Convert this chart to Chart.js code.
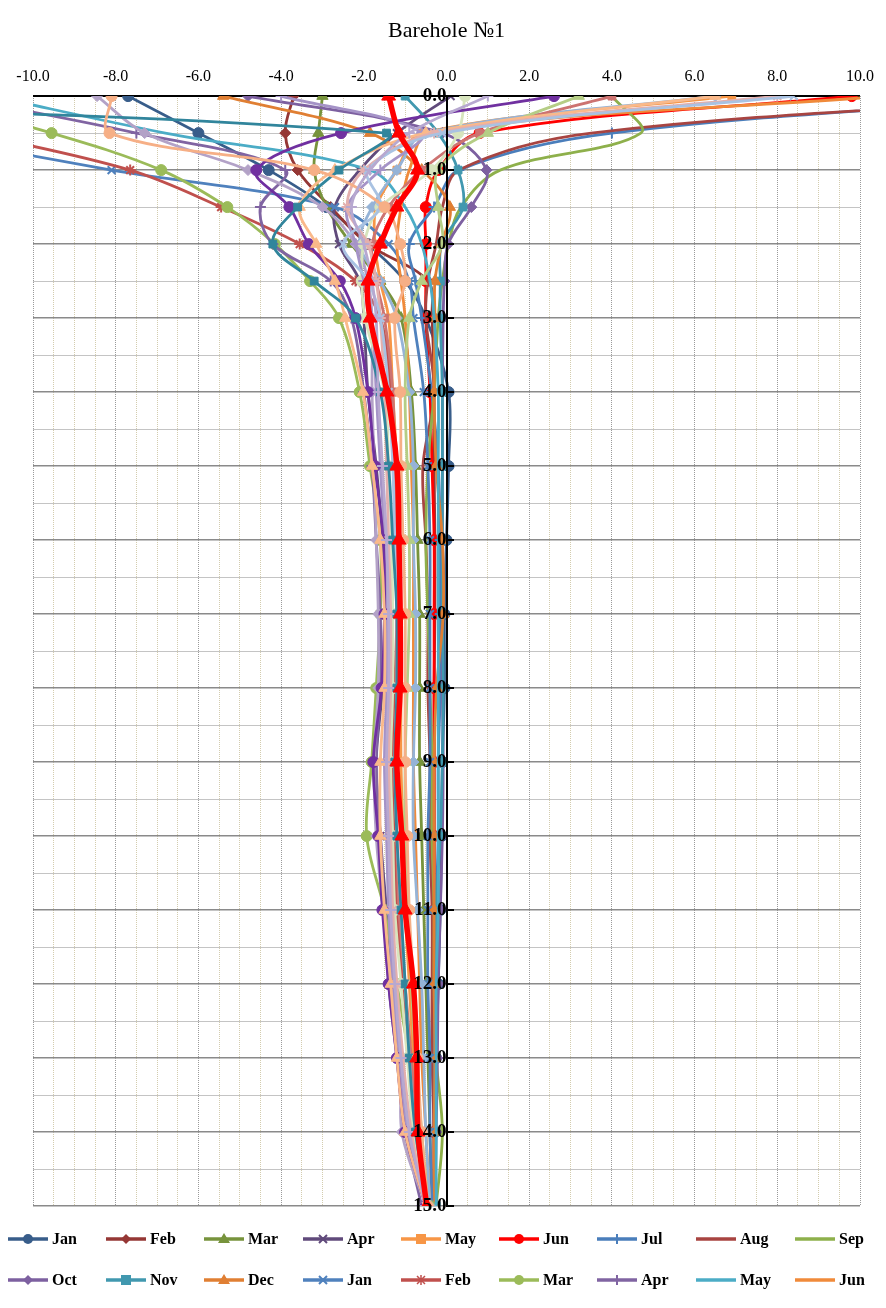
<!DOCTYPE html>
<html><head><meta charset="utf-8">
<script src="https://cdn.jsdelivr.net/npm/chart.js@4.4.1/dist/chart.umd.min.js"></script>
<style>
html,body{margin:0;padding:0;background:#fff;}
#wrap{position:relative;width:886px;height:1308px;}
#c{position:absolute;left:0;top:0;}
#legend{position:absolute;left:0;top:0;width:886px;height:1308px;pointer-events:none;font-family:"Liberation Serif",serif;font-weight:bold;font-size:16px;color:#000;}
.item{position:absolute;display:flex;align-items:center;height:22px;white-space:nowrap;}
.item svg{margin-right:4px;}
</style></head>
<body>
<div id="wrap"><canvas id="c" width="886" height="1308"></canvas><div id="legend"></div></div>
<script>
// depth (m) for every measurement
const depths = [0,0.5,1,1.5,2,2.5,3,4,5,6,7,8,9,10,11,12,13,14,15];
const xTickLabels = ['-10.0','-8.0','-6.0','-4.0','-2.0','0.0','2.0','4.0','6.0','8.0','10.0'];
const yTickLabels = ['0.0','1.0','2.0','3.0','4.0','5.0','6.0','7.0','8.0','9.0','10.0','11.0','12.0','13.0','14.0','15.0'];

// legend series (temperature, °C)
const jan1 = [-7.7,-6.0,-4.3,-2.9,-1.9,-1.0,-0.5,0.05,0.05,0.0,-0.05,-0.05,-0.1,-0.12,-0.15,-0.2,-0.25,-0.28,-0.3];
const feb1 = [-3.7,-3.9,-3.6,-2.8,-1.9,-0.45,-0.35,-0.3,-0.3,-0.28,-0.28,-0.3,-0.3,-0.3,-0.3,-0.3,-0.3,-0.3,-0.3];
const mar1 = [-3.0,-3.1,-3.2,-2.9,-2.3,-1.6,-1.1,-0.85,-0.75,-0.7,-0.65,-0.65,-0.65,-0.6,-0.55,-0.5,-0.45,-0.4,-0.35];
const apr1 = [0.1,-1.2,-2.1,-2.7,-2.6,-2.1,-2.0,-1.9,-1.7,-1.55,-1.5,-1.55,-1.7,-1.6,-1.45,-1.3,-1.1,-0.9,-0.5];
const may1 = [6.9,-0.6,-1.2,-1.7,-1.73,-1.6,-1.4,-1.3,-1.2,-1.15,-1.1,-1.1,-1.1,-1.05,-1.0,-0.9,-0.8,-0.65,-0.5];
const jun1 = [9.8,0.8,-0.2,-0.5,-0.5,-0.5,-0.5,-0.4,-0.35,-0.3,-0.3,-0.3,-0.3,-0.3,-0.3,-0.3,-0.3,-0.3,-0.3];
const jul1 = [15,4.0,0.3,-0.3,-0.9,-0.75,-0.6,-0.36,-0.2,-0.15,-0.15,-0.15,-0.2,-0.2,-0.25,-0.25,-0.3,-0.3,-0.3];
const aug1 = [15.5,3.5,0.3,-0.1,-0.25,-0.45,-0.5,-0.3,-0.57,-0.5,-0.45,-0.45,-0.4,-0.4,-0.35,-0.35,-0.35,-0.3,-0.3];
const sep1 = [4.0,4.7,1.3,0.35,0.05,-0.1,-0.2,-0.3,-0.45,-0.5,-0.45,-0.4,-0.35,-0.35,-0.3,-0.3,-0.25,-0.1,-0.25];
const oct1 = [-4.8,-0.1,0.97,0.6,0.04,-0.05,-0.08,-0.1,-0.1,-0.1,-0.1,-0.1,-0.08,-0.1,-0.15,-0.2,-0.22,-0.25,-0.28];
const nov1 = [-1.0,-0.2,0.28,0.4,-0.12,-0.15,-0.15,-0.1,-0.1,-0.1,-0.1,-0.08,-0.1,-0.15,-0.26,-0.28,-0.28,-0.28,-0.25];
const dec1 = [-5.4,-1.85,-0.6,0.08,-0.12,-0.28,-0.28,-0.3,-0.25,-0.1,-0.08,-0.24,-0.3,-0.3,-0.3,-0.3,-0.28,-0.3,-0.3];
const jan2 = [-18,-13,-8.1,-2.7,-1.4,-0.9,-0.8,-0.55,-0.45,-0.4,-0.4,-0.4,-0.4,-0.45,-0.45,-0.45,-0.4,-0.4,-0.35];
const feb2 = [-16,-11.5,-7.65,-5.45,-3.55,-2.2,-1.6,-1.35,-1.25,-1.2,-1.2,-1.25,-1.3,-1.25,-1.2,-1.05,-0.9,-0.7,-0.5];
const mar2 = [-13,-9.55,-6.9,-5.3,-4.15,-3.3,-2.6,-2.1,-1.85,-1.6,-1.6,-1.7,-1.81,-1.93,-1.5,-1.2,-0.9,-0.65,-0.4];
const apr2 = [-12,-7.5,-3.9,-4.5,-4.2,-2.8,-2.3,-2.0,-1.8,-1.7,-1.6,-1.6,-1.7,-1.6,-1.5,-1.4,-1.2,-1.0,-0.6];
const may2 = [-11,-6.8,-1.85,-1.0,-0.6,-0.4,-0.3,-0.2,-0.2,-0.2,-0.2,-0.2,-0.2,-0.2,-0.2,-0.25,-0.25,-0.25,-0.25];
const jun2 = [10.6,-0.4,-0.9,-1.1,-1.2,-1.1,-1.0,-0.9,-0.85,-0.8,-0.8,-0.8,-0.8,-0.75,-0.7,-0.65,-0.6,-0.5,-0.4];
// further series drawn in the plot but not listed in the legend
const extraA = [6.5,-0.5,-1.2,-1.8,-2.1,-1.6,-1.2,-0.9,-0.8,-0.8,-0.75,-0.75,-0.8,-0.8,-0.7,-0.6,-0.55,-0.5,-0.4];
const extraB = [4.0,0.8,-0.6,-1.4,-1.8,-1.7,-1.5,-1.3,-1.25,-1.2,-1.2,-1.2,-1.25,-1.2,-1.15,-1.0,-0.85,-0.7,-0.5];
const extraC = [3.2,1.0,-0.2,-0.2,-0.1,-0.6,-0.9,-1.0,-0.95,-0.9,-0.9,-0.95,-1.0,-1.0,-0.95,-0.85,-0.75,-0.6,-0.45];
const extraD = [-8.45,-7.3,-4.8,-3.0,-2.2,-1.9,-1.8,-1.8,-1.75,-1.7,-1.65,-1.65,-1.75,-1.7,-1.53,-1.33,-1.08,-1.08,-0.5];
const extraE = [0.45,0.28,-0.36,-1.6,-2.0,-2.05,-1.97,-1.5,-1.4,-1.33,-1.3,-1.3,-1.35,-1.3,-1.25,-1.1,-0.95,-0.8,-0.5];
const extraF = [-4.0,-0.6,-1.6,-2.4,-2.2,-2.0,-1.8,-1.7,-1.6,-1.5,-1.45,-1.45,-1.5,-1.45,-1.4,-1.3,-1.15,-0.95,-0.5];
const extraG = [2.6,-2.55,-4.6,-3.8,-3.33,-2.58,-2.2,-1.9,-1.73,-1.53,-1.5,-1.57,-1.77,-1.65,-1.55,-1.4,-1.2,-1.0,-0.5];
const extraH = [6.5,-0.5,-2.7,-3.55,-3.15,-2.7,-2.45,-2.02,-1.8,-1.6,-1.5,-1.5,-1.6,-1.6,-1.5,-1.35,-1.2,-1.0,-0.5];
const extraI = [8.0,-0.3,-2.0,-2.4,-1.9,-1.7,-1.6,-1.5,-1.45,-1.4,-1.35,-1.35,-1.4,-1.35,-1.3,-1.2,-1.05,-0.85,-0.5];
const extraJ = [8.4,-0.1,-1.9,-1.6,-2.5,-1.9,-1.6,-1.4,-1.3,-1.25,-1.2,-1.2,-1.25,-1.2,-1.1,-1.0,-0.9,-0.75,-0.45];
const extraK = [-25,-1.45,-2.6,-3.6,-4.2,-3.2,-2.2,-1.6,-1.4,-1.3,-1.2,-1.2,-1.25,-1.2,-1.1,-1.0,-0.9,-0.75,-0.45];
const extraL = [-8.1,-8.15,-3.2,-1.5,-1.12,-1.0,-1.25,-1.12,-1.1,-1.05,-1.0,-1.0,-1.0,-0.95,-0.9,-0.8,-0.7,-0.6,-0.45];
const extraM = [1.0,-0.9,-1.85,-2.3,-2.0,-1.8,-1.7,-1.65,-1.55,-1.45,-1.4,-1.4,-1.45,-1.4,-1.35,-1.25,-1.1,-0.9,-0.5];
const current = [-1.4,-1.15,-0.7,-1.2,-1.6,-1.9,-1.85,-1.44,-1.2,-1.15,-1.12,-1.12,-1.2,-1.08,-1.0,-0.8,-0.72,-0.69,-0.48];

const seriesNames = ['Jan','Feb','Mar','Apr','May','Jun','Jul','Aug','Sep','Oct','Nov','Dec','Jan','Feb','Mar','Apr','May','Jun'];
const seriesValues = [jan1,feb1,mar1,apr1,may1,jun1,jul1,aug1,sep1,oct1,nov1,dec1,jan2,feb2,mar2,apr2,may2,jun2];
const seriesColors = ['#385D8A','#953735','#77933C','#604A7B','#F79646','#FF0000','#4A7EBB','#A84441','#8EB04B','#7D60A0','#4198AF','#E07F33','#4F81BD','#C0504D','#9BBB59','#8064A2','#4BACC6','#F08A3A'];
const seriesMarkers = ['circle','rectRot','triangle','crossRot','rect','circle','cross',null,null,'rectRot','rect','triangle','crossRot','star','circle','cross',null,null];

const extraValues = [extraA,extraB,extraC,extraD,extraE,extraF,extraG,extraH,extraI,extraJ,extraK,extraL,extraM];
const extraColors = ['#95B3D7','#CD7371','#B5CD85','#B3A2C7','#D7E4BD','#A593C7','#7030A0','#FAB98A','#E3AFAD','#A9C2E2','#31859C','#F6AF86','#B7A8D0'];
const extraMarkers = ['rectRot','rect','triangle','rectRot','circle','cross','circle','triangle','star','crossRot','rect','circle','cross'];

const FONT = '"Liberation Serif", "Times New Roman", serif';

function mkData(vals){ return depths.map((d,i)=>({x: vals[i], y: d})); }
function markerSize(m){ if(!m) return 0; if(m==='triangle') return 6.5; if(m==='rect') return 5.5; return 5.5; }

const datasets = [];
const total = seriesValues.length + extraValues.length + 1;
let idx = 0;
function addSet(label, vals, color, marker, width, radius){
  const isLine = marker==='cross'||marker==='crossRot'||marker==='star';
  datasets.push({
    label, data: mkData(vals), showLine: true,
    borderColor: color, backgroundColor: color,
    borderWidth: width, tension: 0.35,
    pointStyle: marker || 'circle',
    pointRadius: marker ? radius : 0,
    pointBorderWidth: isLine ? 2 : 1,
    pointBorderColor: color, pointBackgroundColor: color,
    order: total - idx
  });
  idx++;
}
seriesValues.forEach((v,i)=>addSet(seriesNames[i], v, seriesColors[i], seriesMarkers[i], 2.8, markerSize(seriesMarkers[i])));
extraValues.forEach((v,i)=>addSet('', v, extraColors[i], extraMarkers[i], 2.8, markerSize(extraMarkers[i])));
addSet('', current, '#FF0000', 'triangle', 5.5, 8);

const chart = new Chart(document.getElementById('c'), {
  type: 'scatter',
  data: { datasets },
  options: {
    responsive: false, animation: false,
    layout: { padding: { left: 33, right: 26, top: 0, bottom: 102 } },
    elements: { line: { capBezierPoints: false } },
    plugins: {
      legend: { display: false }, tooltip: { enabled: false },
      title: { display: true, text: 'Barehole №1', color: '#000',
        font: { family: FONT, size: 22, weight: 'normal' }, padding: { top: 18, bottom: 12.5 } }
    },
    scales: {
      x: {
        type: 'linear', position: 'top', min: -10, max: 10,
        ticks: { stepSize: 0.5, autoSkip: false, maxRotation: 0, color: '#000', padding: 10,
          font: { family: FONT, size: 16 },
          callback: (v) => { const k = xTickLabels.indexOf(Number(v).toFixed(1)); return (Math.abs(v % 2) < 1e-9 && k >= 0) ? xTickLabels[k] : ''; } },
        grid: { drawTicks: false, lineWidth: 1,
          color: (c) => (Math.abs(c.tick.value % 2) < 1e-9) ? '#9A9A9A' : '#D3CCAE' },
        border: { display: false, dash: [1, 1] }
      },
      y: {
        type: 'linear', reverse: true, min: 0, max: 15, position: { x: 0 },
        ticks: { display: false, stepSize: 0.5 },
        grid: { drawTicks: false,
          color: (c) => c.tick.value === 0 ? '#000' : (Number.isInteger(c.tick.value) ? '#8A8A8A' : '#C4C4C4'),
          lineWidth: (c) => c.tick.value === 0 ? 2 : (Number.isInteger(c.tick.value) ? 1.5 : 1) },
        border: { display: false }
      },
      yl: {
        type: 'linear', reverse: true, min: 0, max: 15, position: { x: 0 },
        ticks: { z: 2, stepSize: 1, color: '#000', padding: 7, font: { family: FONT, size: 19, weight: 'bold' },
          callback: (v) => yTickLabels[Math.round(v)] },
        grid: { z: 1, drawOnChartArea: false, drawTicks: true, tickLength: -8, color: '#000', lineWidth: 2 },
        border: { z: 1, display: true, color: '#000', width: 2 }
      }
    }
  }
});

// legend (Excel-style grid, 9 columns x 2 rows)
const legendX = [8,106,204,303,401,499,597,696,795];
const legendY = [1239,1280];
const leg = document.getElementById('legend');
function markerSvg(m, color){
  const cx=20, cy=8;
  switch(m){
    case 'circle': return `<circle cx="${cx}" cy="${cy}" r="5" fill="${color}"/>`;
    case 'rectRot': return `<polygon points="${cx},${cy-5} ${cx+5},${cy} ${cx},${cy+5} ${cx-5},${cy}" fill="${color}"/>`;
    case 'triangle': return `<polygon points="${cx},${cy-6} ${cx+6},${cy+4} ${cx-6},${cy+4}" fill="${color}"/>`;
    case 'rect': return `<rect x="${cx-5}" y="${cy-5}" width="10" height="10" fill="${color}"/>`;
    case 'crossRot': return `<path d="M${cx-4} ${cy-4}L${cx+4} ${cy+4}M${cx+4} ${cy-4}L${cx-4} ${cy+4}" stroke="${color}" stroke-width="2"/>`;
    case 'cross': return `<path d="M${cx} ${cy-5}L${cx} ${cy+5}" stroke="${color}" stroke-width="2"/>`;
    case 'star': return `<path d="M${cx-4} ${cy-4}L${cx+4} ${cy+4}M${cx+4} ${cy-4}L${cx-4} ${cy+4}M${cx} ${cy-5}L${cx} ${cy+5}" stroke="${color}" stroke-width="1.5"/>`;
    default: return '';
  }
}
seriesNames.forEach((name,i)=>{
  const col = i % 9, row = Math.floor(i / 9);
  const d = document.createElement('div');
  d.className = 'item';
  d.style.left = legendX[col] + 'px';
  d.style.top = (legendY[row] - 11) + 'px';
  d.innerHTML = `<svg width="40" height="16" viewBox="0 0 40 16"><line x1="0" y1="8" x2="40" y2="8" stroke="${seriesColors[i]}" stroke-width="3.5"/>${markerSvg(seriesMarkers[i], seriesColors[i])}</svg><span>${name}</span>`;
  leg.appendChild(d);
});
</script>
</body></html>
